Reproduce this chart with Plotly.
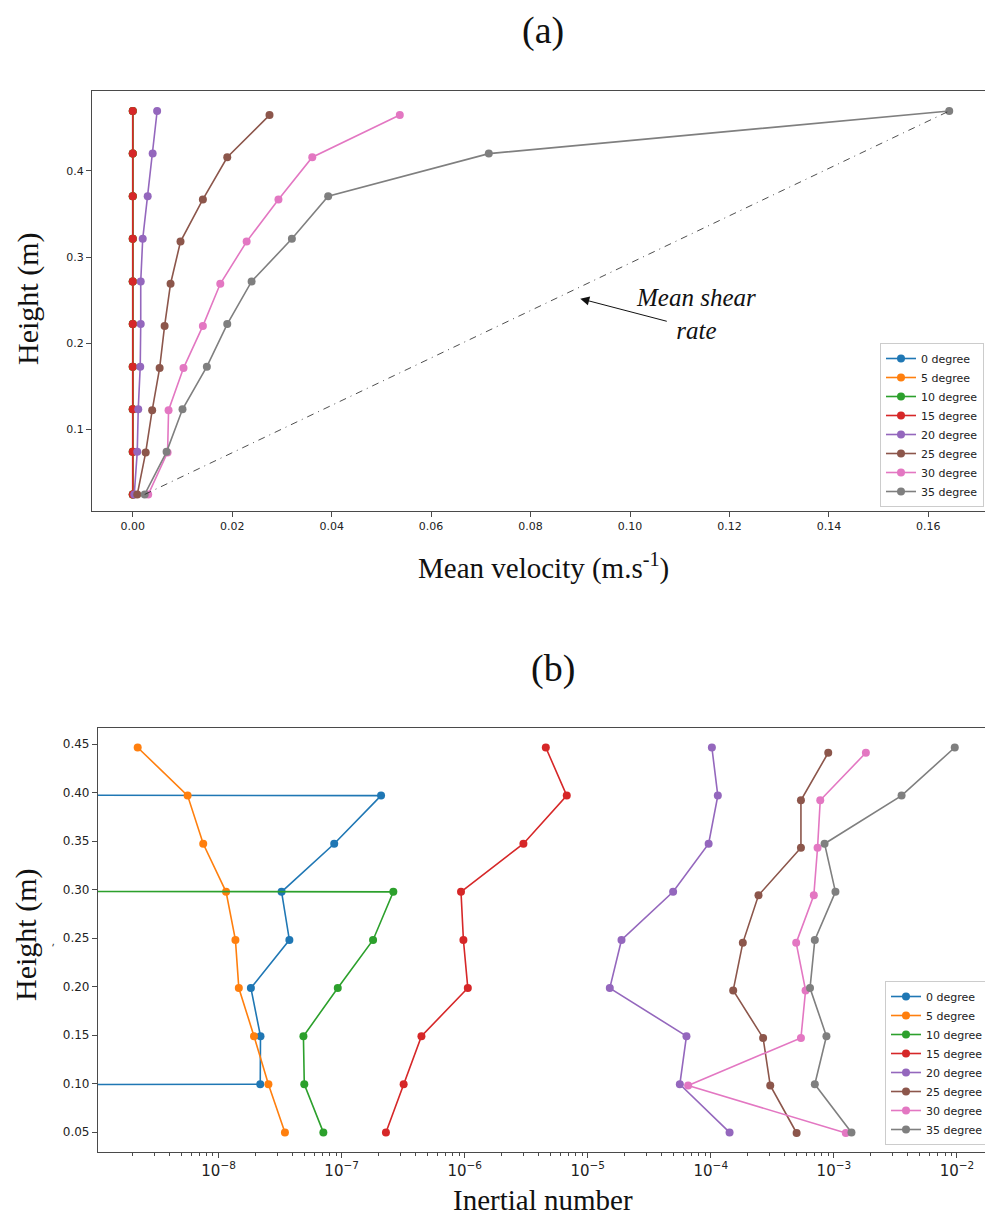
import plotly.graph_objects as go

# ---------------- data: panel (a) mean velocity profiles ----------------
series_names = ["0 degree", "5 degree", "10 degree", "15 degree",
                "20 degree", "25 degree", "30 degree", "35 degree"]
colors = ["#1f77b4", "#ff7f0e", "#2ca02c", "#d62728",
          "#9467bd", "#8c564b", "#e377c2", "#7f7f7f"]

height_a = [0.0247, 0.0741, 0.1235, 0.1729, 0.2223, 0.2717, 0.3211, 0.3705, 0.4199, 0.4693]
height_a_alt = [0.0245, 0.0734, 0.1223, 0.1712, 0.2201, 0.2690, 0.3179, 0.3668, 0.4157, 0.4646]

vel_0 = [0.0, 0.0, 0.0, 0.0, 0.0, 0.0, 0.0, 0.0, 0.0, 0.0]
vel_5 = [0.0, 0.0, 0.0, 0.0, 0.0, 0.0, 0.0, 0.0, 0.0, 0.0]
vel_10 = [0.0, 0.0, 0.0, 0.0, 0.0, 0.0, 0.0, 0.0, 0.0, 0.0]
vel_15 = [0.0, 0.0, 0.0, 0.0, 0.0, 0.0, 0.0, 0.0, 0.0, 0.0]
vel_20 = [0.0003, 0.0009, 0.0011, 0.0015, 0.0016, 0.0016, 0.0020, 0.0030, 0.0040, 0.0049]
vel_25 = [0.0009, 0.0026, 0.0039, 0.0054, 0.0064, 0.0076, 0.0096, 0.0141, 0.0190, 0.0275]
vel_30 = [0.0031, 0.0070, 0.0072, 0.0102, 0.0141, 0.0176, 0.0229, 0.0293, 0.0361, 0.0537]
vel_35 = [0.0024, 0.0068, 0.0100, 0.0149, 0.0190, 0.0239, 0.0320, 0.0393, 0.0716, 0.1642]

vel_series = [vel_0, vel_5, vel_10, vel_15, vel_20, vel_25, vel_30, vel_35]
vel_heights = [height_a, height_a, height_a, height_a, height_a,
               height_a_alt, height_a_alt, height_a]

# ---------------- data: panel (b) inertial number profiles ----------------
height_b = [0.0496, 0.0992, 0.1488, 0.1984, 0.2480, 0.2976, 0.3472, 0.3968, 0.4464]
height_b_alt = [0.0490, 0.0980, 0.1470, 0.1960, 0.2450, 0.2940, 0.3430, 0.3920, 0.4410]

inert_0 = [0.0, 2.18e-8, 2.19e-8, 1.83e-8, 3.76e-8, 3.25e-8, 8.7e-8, 2.09e-7, 0.0]
inert_5 = [3.46e-8, 2.54e-8, 1.94e-8, 1.46e-8, 1.37e-8, 1.15e-8, 7.5e-9, 5.6e-9, 2.2e-9]
inert_10 = [7.1e-8, 4.97e-8, 4.89e-8, 9.3e-8, 1.80e-7, 2.63e-7, 0.0, 0.0, 0.0]
inert_15 = [2.29e-7, 3.19e-7, 4.45e-7, 1.06e-6, 9.76e-7, 9.33e-7, 3.0e-6, 6.75e-6, 4.56e-6]
inert_20 = [1.42e-4, 5.6e-5, 6.34e-5, 1.51e-5, 1.88e-5, 4.94e-5, 9.6e-5, 1.14e-4, 1.02e-4]
inert_25 = [4.98e-4, 3.04e-4, 2.66e-4, 1.52e-4, 1.82e-4, 2.44e-4, 5.4e-4, 5.4e-4, 9.0e-4]
inert_30 = [1.25e-3, 6.54e-5, 5.4e-4, 5.89e-4, 4.94e-4, 6.87e-4, 7.37e-4, 7.75e-4, 1.82e-3]
inert_35 = [1.39e-3, 7.0e-4, 8.7e-4, 6.4e-4, 7.0e-4, 1.03e-3, 8.4e-4, 3.55e-3, 9.6e-3]

inert_series = [inert_0, inert_5, inert_10, inert_15, inert_20, inert_25, inert_30, inert_35]
inert_heights = [height_b, height_b, height_b, height_b, height_b,
                 height_b_alt, height_b_alt, height_b]

# tick labels
vel_ticks = [0.00, 0.02, 0.04, 0.06, 0.08, 0.10, 0.12, 0.14, 0.16]
ha_ticks = [0.1, 0.2, 0.3, 0.4]
hb_ticks = [0.05, 0.10, 0.15, 0.20, 0.25, 0.30, 0.35, 0.40, 0.45]

# nonpositive values on a log axis are clipped to a tiny positive value (as matplotlib does)
LOG_CLIP = 1e-300

PAGE_W, PAGE_H = 993, 1220
OFF = 8  # default page body margin
W, H = PAGE_W - OFF, PAGE_H - OFF
SERIF = "Liberation Serif"
SANS = "DejaVu Sans"
AX_COL = "#4a4a4a"


def px_x(p):
    return (p - OFF) / W


def px_y(p):
    return 1 - (p - OFF) / H


fig = go.Figure()

for name, col, v, h in zip(series_names, colors, vel_series, vel_heights):
    fig.add_trace(go.Scatter(
        x=v, y=h, mode="lines+markers", name=name,
        line=dict(color=col, width=1.6), marker=dict(color=col, size=8),
        xaxis="x", yaxis="y", legend="legend"))

# mean shear rate reference line (from lowest to highest point of 35 degree profile)
fig.add_trace(go.Scatter(
    x=[vel_35[0], vel_35[-1]], y=[height_a[0], height_a[-1]],
    mode="lines", line=dict(color="#222222", width=0.8, dash="7px,5px,1px,5px"),
    showlegend=False, xaxis="x", yaxis="y", hoverinfo="skip"))

for name, col, iv, h in zip(series_names, colors, inert_series, inert_heights):
    xv = [val if val > 0 else LOG_CLIP for val in iv]
    fig.add_trace(go.Scatter(
        x=xv, y=h, mode="lines+markers", name=name,
        line=dict(color=col, width=1.6), marker=dict(color=col, size=8),
        xaxis="x2", yaxis="y2", legend="legend2"))

tickfont = dict(family=SANS, size=11, color="#222222")
axis_common = dict(showline=True, linecolor=AX_COL, linewidth=1.2, mirror=True,
                   ticks="outside", ticklen=5, tickwidth=1, tickcolor=AX_COL,
                   showgrid=False, zeroline=False, tickfont=tickfont)
tickfont_b = dict(family=SANS, size=12, color="#222222")

legend_common = dict(xanchor="right", yanchor="bottom",
                     bgcolor="rgba(255,255,255,0.85)", bordercolor="#cccccc", borderwidth=1,
                     font=dict(family=SANS, size=11, color="#222222"),
                     tracegroupgap=0, itemwidth=30)

fig.update_layout(
    width=W, height=H,
    margin=dict(l=0, r=0, t=0, b=0),
    paper_bgcolor="white", plot_bgcolor="white",
    xaxis=dict(domain=[px_x(92), px_x(990)], anchor="y",
               range=[-0.0082, 0.1724], tickvals=vel_ticks, tickformat=".2f",
               **axis_common),
    yaxis=dict(domain=[px_y(511), px_y(91)], anchor="x",
               range=[0.0055, 0.4925], tickvals=ha_ticks, tickformat=".1f",
               **axis_common),
    xaxis2=dict(domain=[px_x(98), px_x(992)], anchor="y2", type="log",
                range=[-8.98, -1.715], dtick=1, tick0=0, exponentformat="power",
                minor=dict(ticks="outside", ticklen=2.5, tickcolor=AX_COL, dtick="D1"),
                **dict(axis_common, tickfont=tickfont_b)),
    yaxis2=dict(domain=[px_y(1152), px_y(728)], anchor="x2",
                range=[0.0294, 0.4665], tickvals=hb_ticks, tickformat=".2f",
                **dict(axis_common, tickfont=tickfont_b)),
    legend=dict(x=px_x(984), y=px_y(507), **legend_common),
    legend2=dict(x=px_x(989), y=px_y(1145), **legend_common),
    showlegend=True,
)


def label(text, xp, yp, size, family=SERIF, angle=0, color="#111111"):
    return dict(text=text, x=px_x(xp), y=px_y(yp), xref="paper", yref="paper",
                xanchor="center", yanchor="middle", showarrow=False, textangle=angle,
                font=dict(family=family, size=size, color=color))


annotations = [
    label("(a)", 543, 31, 38),
    label("(b)", 553, 668, 38),
    label("Height (m)", 28, 299, 30, angle=-90),
    label("Height (m)", 26, 935, 30, angle=-90),
    label("Mean velocity (m.s<sup>-1</sup>)", 543, 566, 29),
    label("Inertial number", 543, 1200, 29),
    label("-", 53, 945, 11, family=SANS, angle=-70, color="#333333"),
    # mean shear rate label
    dict(text="<i>Mean shear</i><br><i>rate</i>", x=0.1133, y=0.2344, xref="x", yref="y",
         xanchor="center", yanchor="middle", showarrow=False, align="center",
         font=dict(family=SERIF, size=25, color="#111111")),
    dict(text="", x=0.0900, y=0.2517, xref="x", yref="y", ax=88, ay=23,
         showarrow=True, arrowhead=2, arrowsize=1.8, arrowwidth=1, arrowcolor="#111111"),
]
fig.update_layout(annotations=annotations)

fig.write_html("out.html")
